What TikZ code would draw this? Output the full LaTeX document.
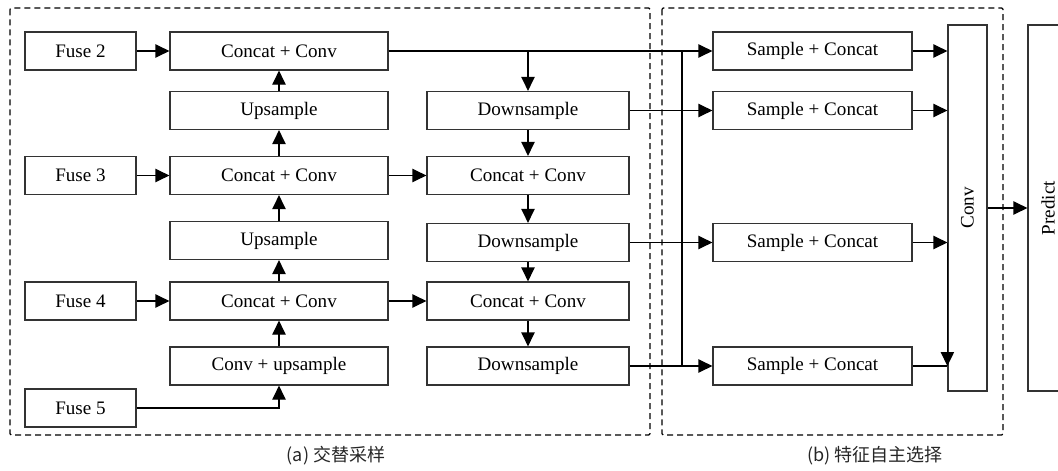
\documentclass[tikz,border=0pt]{standalone}
\usepackage{fontspec}
\setmainfont{Liberation Serif}
\newfontfamily\cjk{Noto Sans CJK SC}
\usetikzlibrary{arrows.meta,calc}
\tikzset{
 blk/.style={draw=black!80,line width=.9pt,inner sep=0,minimum height=28.5pt,font=\fontsize{14.3}{16}\selectfont},
 fuse/.style={blk,minimum width=83.25pt},
 leftcol/.style={blk,minimum width=163.5pt},
 midcol/.style={blk,minimum width=151.5pt},
 samplebox/.style={blk,minimum width=149.25pt},
 tallbox/.style={blk,minimum height=274.5pt,minimum width=29.25pt},
 link/.style={line width=.9pt},
 arr/.style={link,-{Triangle[length=10.5pt,width=10pt]}},
 frame/.style={line width=.9pt,dash pattern=on 4.5pt off 3pt,rounded corners=1pt},
 caption/.style={font=\cjk\fontsize{13.5}{15}\selectfont,text=black!85}
}
\begin{document}
\begin{tikzpicture}[x=.75pt,y=-.75pt]
\clip (0,0) rectangle (1058,471);
% frames
\draw[frame] (10,8) rectangle (650,435);
\draw[frame] (662,8) rectangle (1003,435);
\node[caption] (capa) at (336,456) {(a) 交替采样};
\node[caption] (capb) at (875,456) {(b) 特征自主选择};
% inputs
\node[fuse] (fuse2) at (80.5,51) {Fuse 2};
\node[fuse] (fuse3) at (80.5,175.5) {Fuse 3};
\node[fuse] (fuse4) at (80.5,301) {Fuse 4};
\node[fuse] (fuse5) at (80.5,408) {Fuse 5};
% upward path
\node[leftcol] (cc1) at (279,51) {Concat + Conv};
\node[leftcol] (up1) at (279,110.5) {Upsample};
\node[leftcol] (cc2) at (279,175.5) {Concat + Conv};
\node[leftcol] (up2) at (279,240.5) {Upsample};
\node[leftcol] (cc3) at (279,301) {Concat + Conv};
\node[leftcol] (cu) at (279,366) {Conv + upsample};
% downward path
\node[midcol] (ds1) at (528,110.5) {Downsample};
\node[midcol] (cm2) at (528,175.5) {Concat + Conv};
\node[midcol] (ds2) at (528,242.5) {Downsample};
\node[midcol] (cm3) at (528,301) {Concat + Conv};
\node[midcol] (ds3) at (528,366) {Downsample};
% selection
\node[samplebox] (sc1) at (812.5,51) {Sample + Concat};
\node[samplebox] (sc2) at (812.5,110.5) {Sample + Concat};
\node[samplebox] (sc3) at (812.5,242.5) {Sample + Concat};
\node[samplebox] (sc4) at (812.5,366) {Sample + Concat};
\node[tallbox] (conv) at (967.5,208) {\rotatebox{90}{Conv}};
\node[tallbox,minimum width=30pt] (pred) at (1048,208) {\rotatebox{90}{Predict}};
\coordinate (bus) at (682,0);
% connectors
\draw[arr] (fuse2) -- (cc1);
\draw[arr] (fuse3) -- (cc2);
\draw[arr] (fuse4) -- (cc3);
\draw[arr] (fuse5.east) -| (cu.south);
\draw[arr] (cu) -- (cc3);
\draw[arr] (cc3) -- (up2);
\draw[arr] (up2) -- (cc2);
\draw[arr] (cc2) -- (up1);
\draw[arr] (up1) -- (cc1);
\draw[arr] (cc1.east) -- (sc1.west);
\draw[arr] (cc1.east -| ds1.north) -- (ds1.north);
\draw[arr] (ds1) -- (cm2);
\draw[arr] (cc2) -- (cm2);
\draw[arr] (cm2) -- (ds2);
\draw[arr] (ds2) -- (cm3);
\draw[arr] (cc3) -- (cm3);
\draw[arr] (cm3) -- (ds3);
\draw[arr] (ds1.east) -- (sc2.west);
\draw[arr] (ds2.east) -- (sc3.west);
\draw[arr] (ds3.east) -- (sc4.west);
\draw[link] (bus |- sc1.west) -- (bus |- sc4.west);
\draw[arr] (sc1.east) -- (conv.west |- sc1.east);
\draw[arr] (sc2.east) -- (conv.west |- sc2.east);
\draw[arr] (sc3.east) -- (conv.west |- sc3.east);
\draw[link] (sc4.east) -- (conv.west |- sc4.east);
\draw[arr] (conv.west |- sc3.east) -- (conv.west |- sc4.east);
\draw[arr] (conv) -- (pred);
\end{tikzpicture}
\end{document}
